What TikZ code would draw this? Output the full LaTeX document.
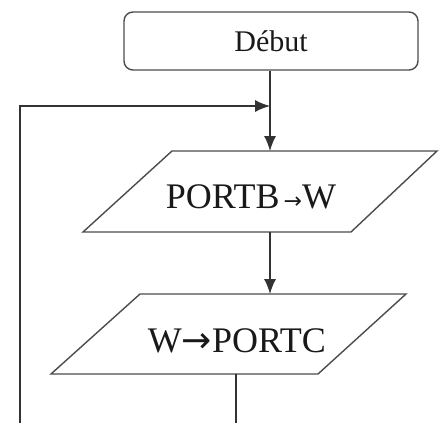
\documentclass[tikz,border=0pt]{standalone}
\usepackage{fontspec}
\setmainfont{Liberation Serif}
\newfontfamily\arrfont{DejaVu Sans}
\usetikzlibrary{arrows.meta}
\begin{document}
\begin{tikzpicture}[x=1pt,y=-1pt,
  line width=1.3pt,
  flow/.style={draw=black!80},
  arr/.style={flow,-{Latex[length=15pt,width=12pt]}},
  shapeline/.style={draw=black!70,line width=1.4pt,line join=miter},
  lbl/.style={text=black!90,inner sep=0pt}]
\useasboundingbox (0,0) rectangle (439,423);
% Debut box
\node[shapeline,rounded corners=9pt,minimum width=294pt,minimum height=58pt,
      font=\fontsize{30}{32}\selectfont,lbl,draw=black!70] (debut) at (271,41) {Début};
% parallelogram 1
\coordinate (p1a) at (172,151); \coordinate (p1b) at (437,151);
\coordinate (p1c) at (351,232); \coordinate (p1d) at (83,232);
\draw[shapeline] (p1a) -- (p1b) -- (p1c) -- (p1d) -- cycle;
\node[lbl,font=\fontsize{36}{40}\selectfont] (p1) at (251,197) {PORTB\hspace{4pt}{\arrfont\fontsize{22}{24}\selectfont →}W};
\coordinate (p1top) at (270,151); \coordinate (p1bot) at (270,232);
% parallelogram 2
\coordinate (p2a) at (140,294); \coordinate (p2b) at (406,294);
\coordinate (p2c) at (318,374); \coordinate (p2d) at (51,374);
\draw[shapeline] (p2a) -- (p2b) -- (p2c) -- (p2d) -- cycle;
\node[lbl,font=\fontsize{36}{40}\selectfont] (p2) at (237,341) {W{\arrfont →}PORTC};
\coordinate (p2top) at (270,294); \coordinate (p2bot) at (236,374);
% connectors
\coordinate (join) at (270,106);
\coordinate (loopstart) at (20,423);
\coordinate (exit) at (236,423);
\draw[arr] (debut.south -| p1top) -- (p1top);
\draw[arr] (loopstart) |- (join);
\draw[arr] (p1bot) -- (p2top);
\draw[flow] (p2bot) -- (exit);
\end{tikzpicture}
\end{document}
